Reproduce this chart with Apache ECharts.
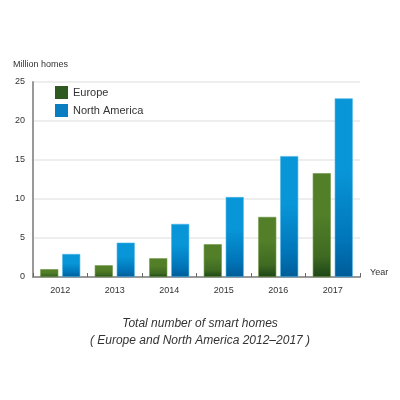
<!DOCTYPE html>
<html><head><meta charset="utf-8">
<script src="https://cdn.jsdelivr.net/npm/echarts@6/dist/echarts.min.js"></script>
<style>html,body{margin:0;padding:0;background:#fff}#c{width:400px;height:400px}</style>
</head><body><div id="c"></div>
<script>
const years = ['2012','2013','2014','2015','2016','2017'];
const europe = [1.0, 1.5, 2.4, 4.2, 7.7, 13.3];
const northAmerica = [2.95, 4.4, 6.8, 10.25, 15.5, 22.9];
const yTicks = [0, 5, 10, 15, 20, 25];

const chart = echarts.init(document.getElementById('c'));
const grad = (top, mid, bottom) => new echarts.graphic.LinearGradient(0,0,0,1,[{offset:0,color:top},{offset:0.4,color:top},{offset:0.8,color:mid},{offset:1,color:bottom}]);
const font = 'Liberation Sans, Arial, sans-serif';
chart.setOption({
  animation:false,
  backgroundColor:'#fff',
  grid:{left:33,right:40,top:82,bottom:123,containLabel:false},
  legend:{
    orient:'vertical', left:50, top:81, itemWidth:13, itemHeight:13, itemGap:5, icon:'rect',
    textStyle:{fontSize:11,color:'#333',fontFamily:font,padding:[0,0,0,0]},
    data:[{name:'Europe',itemStyle:{color:'#2e5a22',borderWidth:0}},{name:'North America',itemStyle:{color:'#0a7cc2',borderWidth:0}}]
  },
  title:{
    text:'Total number of smart homes\n( Europe and North America 2012–2017 )',
    left:'center', top:310,
    textStyle:{fontSize:12,fontStyle:'italic',fontWeight:'normal',color:'#333',fontFamily:font,lineHeight:17}
  },
  xAxis:{
    type:'category', data:years, name:'Year', nameLocation:'end', nameGap:10,
    nameTextStyle:{fontSize:9,color:'#333',fontFamily:font,verticalAlign:'bottom',padding:[0,0,0,0]},
    axisLine:{lineStyle:{color:'#999',width:2}},
    axisTick:{show:true,inside:true,length:4,lineStyle:{color:'#666'},interval:0},
    axisLabel:{fontSize:9,color:'#333',fontFamily:font,margin:9}
  },
  yAxis:{
    type:'value', min:0, max:25, interval:5,
    name:'Million homes', nameLocation:'end', nameGap:13,
    nameTextStyle:{fontSize:9,color:'#333',fontFamily:font,align:'left',padding:[0,0,0,-20]},
    axisLine:{show:true,lineStyle:{color:'#999',width:2}},
    axisTick:{show:false},
    axisLabel:{fontSize:9,color:'#333',fontFamily:font,margin:8,
      formatter:v=>yTicks.includes(v)?String(v):''},
    splitLine:{lineStyle:{color:'#e8e8e8',width:1.5}}
  },
  series:[
    {name:'Europe',type:'bar',data:europe,barWidth:18,barGap:'22%',
     itemStyle:{color:grad('#527f28','#3f6a22','#1d4616'),borderColor:'#6a9440',borderWidth:0.6}},
    {name:'North America',type:'bar',data:northAmerica,barWidth:18,
     itemStyle:{color:grad('#0896d8','#0075b8','#005c98'),borderColor:'#4ab4e6',borderWidth:0.6}}
  ]
});
</script></body></html>
